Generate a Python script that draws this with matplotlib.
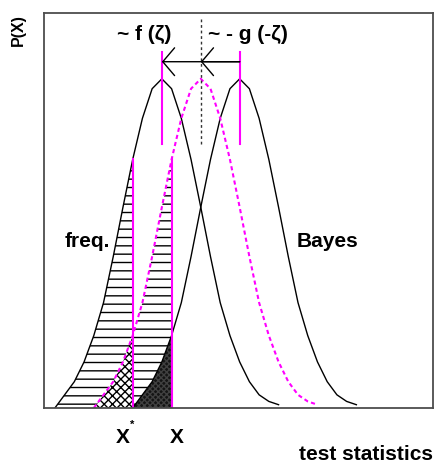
import numpy as np
import matplotlib
matplotlib.use("Agg")
import matplotlib.pyplot as plt

plt.rcParams['font.family'] = ['Liberation Sans', 'DejaVu Sans']
plt.rcParams['font.weight'] = 'bold'
plt.rcParams['hatch.linewidth'] = 1.0

# profile of the sampled curves (offset from curve centre, height)
grid = [-2.75, -2.5, -2.25, -2.0, -1.75, -1.5, -1.25, -1.0, -0.75, -0.5, -0.25, 0.0,
        0.25, 0.5, 0.75, 1.0, 1.25, 1.5, 1.75, 2.0, 2.25, 2.5, 2.75, 3.0]
freq_y = [0.00, 0.04, 0.08, 0.14, 0.22, 0.32, 0.46, 0.61, 0.755, 0.88, 0.97, 1.00,
          0.97, 0.88, 0.755, 0.61, 0.46, 0.32, 0.22, 0.14, 0.08, 0.04, 0.02, 0.01]
mid_y = [0.00, 0.04, 0.08, 0.14, 0.22, 0.32, 0.46, 0.61, 0.755, 0.88, 0.97, 1.00,
         0.97, 0.88, 0.755, 0.61, 0.46, 0.32, 0.22, 0.14, 0.08, 0.04, 0.02, 0.01]
bayes_y = [0.00, 0.04, 0.08, 0.14, 0.22, 0.32, 0.46, 0.61, 0.755, 0.88, 0.97, 1.00,
           0.97, 0.88, 0.755, 0.61, 0.46, 0.32, 0.22, 0.14, 0.08, 0.04, 0.02, 0.01]
centers = {'freq': 0.0, 'mid': 1.0, 'bayes': 2.0}
x_star = -0.75
x_obs = 0.25

grid = np.array(grid)
fx = grid + centers['freq']; fy = np.array(freq_y)
mx = grid + centers['mid']; my = np.array(mid_y)
bx = grid + centers['bayes']; by = np.array(bayes_y)

W, H = 436, 464
fig = plt.figure(figsize=(W / 100, H / 100), dpi=100)
L, R, T, B = 44, 433, 14, 409
ax = fig.add_axes([L / W, (H - B) / H, (R - L) / W, (B - T) / H])
ax.set_xlim(-3.03, 6.97)
ax.set_ylim(0, 1.2)
ax.set_xticks([]); ax.set_yticks([])
for s in ax.spines.values():
    s.set_color('0.3'); s.set_linewidth(1.3)

# hatched regions
m = fx <= x_star + 1e-9
ax.fill_between(fx[m], 0, fy[m], facecolor='none', edgecolor='black', linewidth=0, hatch='--')
m = (mx >= x_star - 1e-9) & (mx <= x_obs + 1e-9)
ax.fill_between(mx[m], 0, my[m], facecolor='none', edgecolor='black', linewidth=0, hatch='--')
m = mx <= x_star + 1e-9
ax.fill_between(mx[m], 0, my[m], facecolor='white', edgecolor='black', linewidth=0, hatch='xxxx')
m = bx <= x_obs + 1e-9
ax.fill_between(bx[m], 0, by[m], facecolor='0.08', edgecolor='0.25', linewidth=0, hatch='xxxxxx')

# curves
ax.plot(fx, fy, color='black', lw=1.0)
ax.plot(bx, by, color='black', lw=1.0)
ax.plot(mx, my, color='#ff00ff', lw=1.5, linestyle=(0, (2, 1.5)))

# vertical markers
mag = '#ff00ff'
ax.plot([x_star, x_star], [0, np.interp(x_star, fx, fy)], color=mag, lw=1.5)
ax.plot([x_obs, x_obs], [0, np.interp(x_obs, mx, my)], color=mag, lw=1.5)
ax.plot([centers['freq']] * 2, [0.802, 1.082], color=mag, lw=1.5)
ax.plot([centers['bayes']] * 2, [0.802, 1.082], color=mag, lw=1.5)
ax.plot([centers['mid']] * 2, [0.802, 1.182], color='0.2', lw=1.0, linestyle=(0, (2, 2)))

ya = 1.052
for xt in (centers['freq'], centers['mid']):
    ax.annotate('', xy=(xt, ya), xytext=(centers['bayes'], ya),
                arrowprops=dict(arrowstyle='->,head_length=0.85,head_width=1.0',
                                color='black', lw=1.0, shrinkA=0, shrinkB=0))

def ft(px, py, s, **kw):
    fig.text(px / W, 1 - py / H, s, **kw)

ft(18, 30, 'P(X)', rotation=90, ha='center', va='center', fontsize=11.5, fontweight='bold')
ft(144.5, 34, '~ f (ζ)', ha='center', va='center', fontsize=15, fontweight='bold')
ft(248, 34, '~ - g (-ζ)', ha='center', va='center', fontsize=15, fontweight='bold')
ft(87.5, 242, 'freq.', ha='center', va='center', fontsize=15, fontweight='bold')
ft(327, 242, 'Bayes', ha='center', va='center', fontsize=15, fontweight='bold')
ft(122.5, 443, 'X', ha='center', va='baseline', fontsize=15, fontweight='bold')
ft(132, 428, '*', ha='center', va='baseline', fontsize=8, fontweight='bold')
ft(176.5, 443, 'X', ha='center', va='baseline', fontsize=15, fontweight='bold')
ft(433, 460, 'test statistics', ha='right', va='baseline', fontsize=15, fontweight='bold')

fig.savefig('out.png', dpi=100)
